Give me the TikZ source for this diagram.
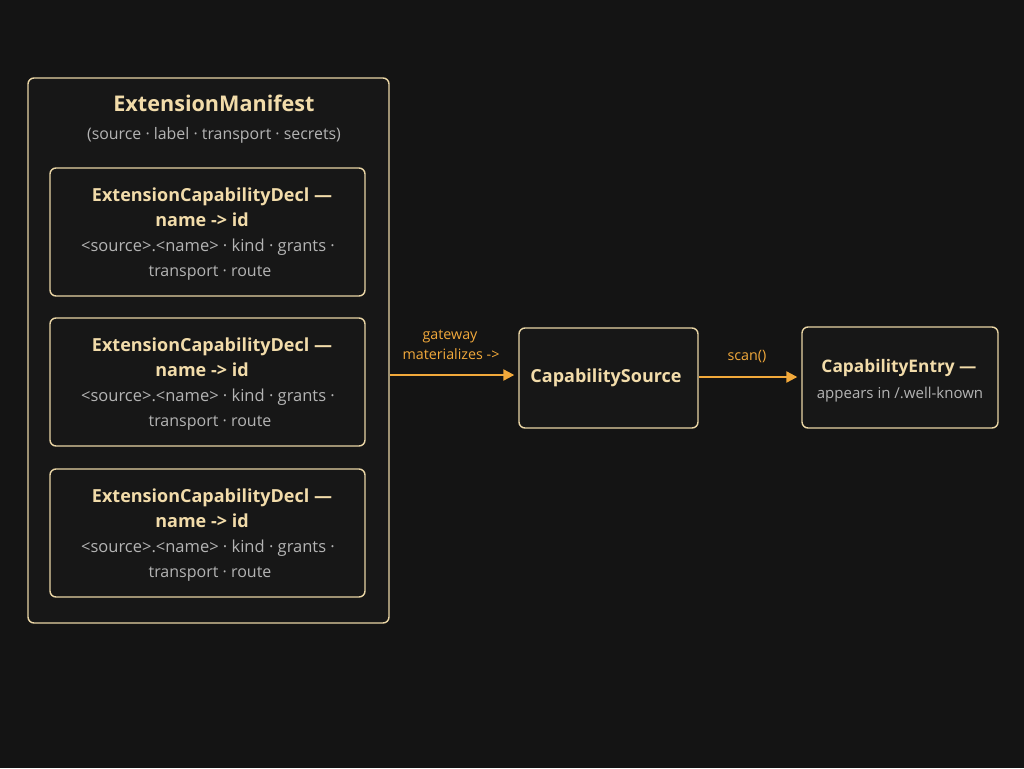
\documentclass[tikz,border=0pt]{standalone}
\usepackage{fontspec}
\setmainfont{Open Sans}
\usetikzlibrary{arrows.meta}
\definecolor{bg}{HTML}{141414}
\definecolor{boxfill}{HTML}{171717}
\definecolor{edge}{HTML}{E9D5A5}
\definecolor{ttl}{HTML}{F2DCAA}
\definecolor{sub}{HTML}{B4B4B4}
\definecolor{arr}{HTML}{F2A93B}
\tikzset{
  box/.style={draw=edge, line width=1.4pt, rounded corners=6pt, fill=boxfill, inner sep=0pt},
  ttltext/.style={text=ttl, font=\fontsize{18}{20}\selectfont\bfseries, inner sep=0pt, anchor=base},
  bigttl/.style={text=ttl, font=\fontsize{21.6}{23}\selectfont\bfseries, inner sep=0pt, anchor=base},
  subtext/.style={text=sub, font=\fontsize{15}{17}\selectfont, inner sep=0pt, anchor=base},
  lbl/.style={text=arr, font=\fontsize{14.3}{16}\selectfont, inner sep=0pt, anchor=base},
  flow/.style={draw=arr, line width=2.2pt, -{Triangle[length=11pt,width=11pt]}}
}
\begin{document}
\begin{tikzpicture}[x=1pt,y=-1pt]
\useasboundingbox[fill=bg] (0,0) rectangle (1024,768);
% outer manifest
\node[box, minimum width=361pt, minimum height=545pt] (man) at (208.5,350.5) {};
\node[bigttl] (mant) at (214,111) {ExtensionManifest};
\node[subtext, font=\fontsize{15.9}{17}\selectfont] (mans) at (214,139) {(source · label · transport · secrets)};
% inner decls
\foreach \i/\cy in {1/232,2/382,3/533}{
  \node[box, minimum width=315pt, minimum height=128pt] (d\i) at (207.5,\cy) {};
  \node[ttltext] (d\i a) at (212,\cy-31) {ExtensionCapabilityDecl —};
  \node[ttltext] (d\i b) at (202,\cy-6) {name -> id};
  \node[subtext, font=\fontsize{16.5}{18}\selectfont] (d\i c) at (208,\cy+19) {<source>.<name> · kind · grants ·};
  \node[subtext, font=\fontsize{16}{18}\selectfont] (d\i d) at (210,\cy+44) {transport · route};
}
% capability source
\node[box, minimum width=179pt, minimum height=100pt] (src) at (608.5,378) {};
\node[ttltext] (srct) at (606,382) {CapabilitySource};
% capability entry
\node[box, minimum width=196pt, minimum height=101pt] (ent) at (900,377.5) {};
\node[ttltext, font=\fontsize{17.3}{19}\selectfont\bfseries] (entt) at (899,372) {CapabilityEntry —};
\node[subtext] (ents) at (900,398) {appears in /.well-known};
% arrows
\coordinate (a1s) at (man.east |- 0,375);
\coordinate (a1e) at (src.west |- 0,375);
\draw[flow] (a1s) -- ([xshift=-4pt]a1e);
\node[lbl] (l1a) at (450,339) {gateway};
\node[lbl] (l1b) at (451,359) {materializes ->};
\coordinate (a2s) at (src.east |- 0,377);
\coordinate (a2e) at (ent.west |- 0,377);
\draw[flow] (a2s) -- ([xshift=-4pt]a2e);
\node[lbl] (l2) at (747,360) {scan()};
\end{tikzpicture}
\end{document}
